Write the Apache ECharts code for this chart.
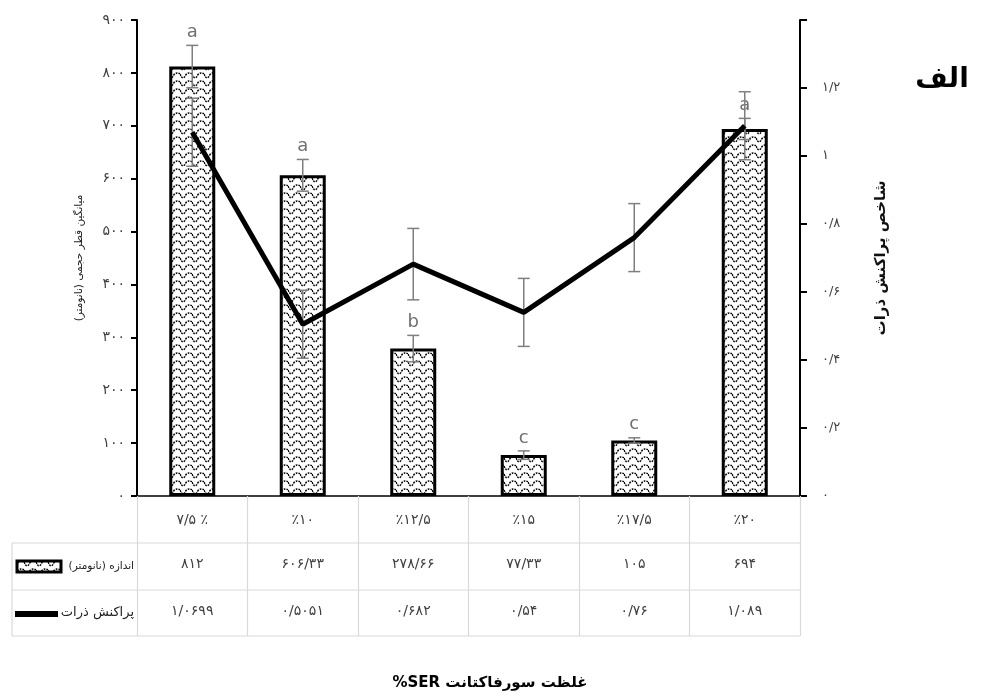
<!DOCTYPE html>
<html>
<head>
<meta charset="utf-8">
<script src="https://cdn.jsdelivr.net/npm/echarts@6/dist/echarts.min.js"></script>
<style>
  html, body { margin: 0; padding: 0; background: #fff; }
  #chart { width: 989px; height: 698px; direction: rtl; }
</style>
</head>
<body>
<div id="chart"></div>
<script>
// غلظت سورفاکتانت (ستون‌ها)
const categories = ['٪ ۷/۵', '٪۱۰', '٪۱۲/۵', '٪۱۵', '٪۱۷/۵', '٪۲۰'];
// اندازه ذرات (نانومتر)
const sizeValues = [812, 606.33, 278.66, 77.33, 105, 694];
const sizeErrors = [40, 30, 25, 8, 5, 20];
const sizeLetters = ['a', 'a', 'b', 'c', 'c', 'a'];
// شاخص پراکنش ذرات
const dispValues = [1.0699, 0.5051, 0.682, 0.54, 0.76, 1.089];
const dispErrors = [0.1, 0.1, 0.105, 0.1, 0.1, 0.1];

const leftTicks = { min: 0, max: 900, interval: 100 };
const rightTicks = { min: 0, max: 1.4, interval: 0.2 };

const FA = "'DejaVu Sans', sans-serif";
const fa = s => String(s).replace(/\d/g, d => '۰۱۲۳۴۵۶۷۸۹'[d]).replace('.', '/');

function makePattern() {
  const c = document.createElement('canvas');
  c.width = 12; c.height = 8;
  const g = c.getContext('2d');
  g.fillStyle = '#fff';
  g.fillRect(0, 0, 12, 8);
  g.strokeStyle = '#000';
  g.lineWidth = 1.5;
  g.setLineDash([1.8, 1.1]);
  g.beginPath();
  g.moveTo(0, 2);
  g.bezierCurveTo(2, 7, 4, 7, 6, 2.5);
  g.bezierCurveTo(8, 0.5, 10, 0.5, 12, 2);
  g.stroke();
  return c;
}
const pattern = { image: makePattern(), repeat: 'repeat' };

const chart = echarts.init(document.getElementById('chart'));

function errorRender(withLetters) {
  return function (params, api) {
    const i = api.value(0), v = api.value(1), e = api.value(2);
    const top = api.coord([i, v + e]);
    const bot = api.coord([i, v - e]);
    const st = { stroke: '#7f7f7f', lineWidth: 1.5 };
    const children = [
      { type: 'line', shape: { x1: top[0], y1: top[1], x2: bot[0], y2: bot[1] }, style: st },
      { type: 'line', shape: { x1: top[0] - 6, y1: top[1], x2: top[0] + 6, y2: top[1] }, style: st },
      { type: 'line', shape: { x1: bot[0] - 6, y1: bot[1], x2: bot[0] + 6, y2: bot[1] }, style: st }
    ];
    if (withLetters) {
      children.push({
        type: 'text',
        style: {
          text: sizeLetters[params.dataIndex], x: top[0], y: top[1] - 4,
          align: 'center', verticalAlign: 'bottom',
          fill: '#707070', font: "18px 'Liberation Sans Narrow', 'DejaVu Sans', sans-serif"
        }
      });
    }
    return { type: 'group', children };
  };
}

const tableLine = { stroke: '#d9d9d9', lineWidth: 1.2 };

const option = {
  animation: false,
  grid: { left: 137, right: 189, top: 20, bottom: 202 },
  xAxis: [
    {
      type: 'category', data: categories, position: 'bottom',
      axisLine: { lineStyle: { color: '#000', width: 1.5 } },
      axisTick: { show: true, alignWithLabel: false, length: 140, lineStyle: { color: '#d9d9d9', width: 1.2 } },
      axisLabel: { margin: 17, fontSize: 14, color: '#404040', fontFamily: FA }
    },
    {
      type: 'category', data: sizeValues.map(fa), position: 'bottom', offset: 47,
      axisLine: { show: false }, axisTick: { show: false },
      axisLabel: { margin: 14, fontSize: 14, color: '#404040', fontFamily: FA }
    },
    {
      type: 'category', data: dispValues.map(fa), position: 'bottom', offset: 94,
      axisLine: { show: false }, axisTick: { show: false },
      axisLabel: { margin: 14, fontSize: 14, color: '#404040', fontFamily: FA }
    }
  ],
  yAxis: [
    {
      type: 'value', min: leftTicks.min, max: leftTicks.max, interval: leftTicks.interval,
      name: 'میانگین قطر حجمی (نانومتر)', nameLocation: 'middle', nameGap: 52, nameRotate: 90,
      nameTextStyle: { fontSize: 10.5, color: '#222', fontFamily: FA },
      axisLine: { show: true, lineStyle: { color: '#000', width: 2 } },
      axisTick: { show: true, length: 6, lineStyle: { color: '#000', width: 2 } },
      axisLabel: { margin: 12, fontSize: 14, color: '#404040', fontFamily: FA, formatter: v => fa(v) },
      splitLine: { show: false }
    },
    {
      type: 'value', min: rightTicks.min, max: rightTicks.max, interval: rightTicks.interval, position: 'right',
      name: 'شاخص پراکنش ذرات', nameLocation: 'middle', nameGap: 74, nameRotate: 90,
      nameTextStyle: { fontSize: 15, fontWeight: 'bold', color: '#111', fontFamily: FA },
      axisLine: { show: true, lineStyle: { color: '#000', width: 2 } },
      axisTick: { show: true, length: 7, lineStyle: { color: '#000', width: 2 } },
      axisLabel: {
        margin: 22, fontSize: 13, color: '#404040', fontFamily: FA, align: 'left',
        formatter: v => (v > 1.3 ? '' : fa(Math.round(v * 10) / 10))
      },
      splitLine: { show: false }
    }
  ],
  series: [
    {
      type: 'bar', data: sizeValues, barWidth: 46, yAxisIndex: 0, z: 2,
      itemStyle: { color: pattern, borderColor: '#000', borderWidth: 3 }
    },
    {
      type: 'custom', yAxisIndex: 0, z: 3,
      data: sizeValues.map((v, i) => [i, v, sizeErrors[i]]),
      renderItem: errorRender(true)
    },
    {
      type: 'custom', yAxisIndex: 1, z: 3,
      data: dispValues.map((v, i) => [i, v, dispErrors[i]]),
      renderItem: errorRender(false)
    },
    {
      type: 'line', data: dispValues, yAxisIndex: 1, z: 5,
      symbol: 'none', lineStyle: { color: '#000', width: 5 }
    }
  ],
  graphic: [
    { type: 'line', shape: { x1: 12, y1: 543, x2: 800, y2: 543 }, style: tableLine },
    { type: 'line', shape: { x1: 12, y1: 590, x2: 800, y2: 590 }, style: tableLine },
    { type: 'line', shape: { x1: 12, y1: 636, x2: 800, y2: 636 }, style: tableLine },
    { type: 'line', shape: { x1: 12, y1: 543, x2: 12, y2: 636 }, style: tableLine },
    {
      type: 'rect', shape: { x: 17, y: 561, width: 44, height: 11 },
      style: { fill: pattern, stroke: '#000', lineWidth: 3 }
    },
    {
      type: 'text', x: 134, y: 566,
      style: { text: 'اندازه (نانومتر)', align: 'right', verticalAlign: 'middle', font: "10.5px 'DejaVu Sans'", fill: '#222' }
    },
    { type: 'line', shape: { x1: 15, y1: 614, x2: 58, y2: 614 }, style: { stroke: '#000', lineWidth: 6 } },
    {
      type: 'text', x: 134, y: 613,
      style: { text: 'پراکنش ذرات', align: 'right', verticalAlign: 'middle', font: "13px 'DejaVu Sans'", fill: '#222' }
    },
    {
      type: 'text', x: 942, y: 80,
      style: { text: 'الف', align: 'center', verticalAlign: 'middle', font: "bold 28px 'DejaVu Sans'", fill: '#000' }
    },
    {
      type: 'text', x: 490, y: 683,
      style: { text: 'غلظت سورفاکتانت SER%', align: 'center', verticalAlign: 'middle', font: "bold 15px 'DejaVu Sans'", fill: '#000' }
    }
  ]
};

chart.setOption(option);
</script>
</body>
</html>
